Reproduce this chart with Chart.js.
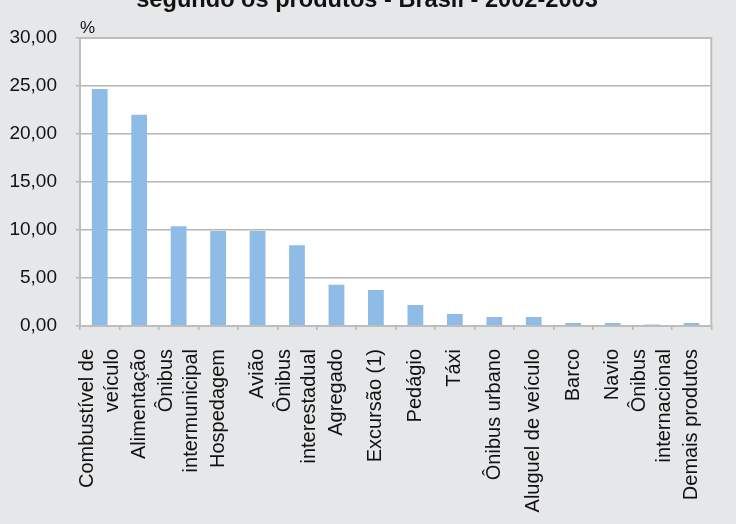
<!DOCTYPE html>
<html>
<head>
<meta charset="utf-8">
<script src="https://cdn.jsdelivr.net/npm/chart.js@4/dist/chart.umd.min.js"></script>
<style>
  html, body { margin: 0; padding: 0; background: #e6e7e9; }
  #wrap { width: 736px; height: 524px; }
</style>
</head>
<body>
<div id="wrap"><canvas id="chart" width="736" height="524"></canvas></div>
<script>
// Categorias (produtos) e participação percentual
const produtos = [
    ['Combustível de', 'veículo'], 'Alimentação', ['Ônibus', 'intermunicipal'], 'Hospedagem',
    'Avião', ['Ônibus', 'interestadual'], 'Agregado', 'Excursão (1)', 'Pedágio', 'Táxi',
    'Ônibus urbano', 'Aluguel de veículo', 'Barco', 'Navio', ['Ônibus', 'internacional'], 'Demais produtos'
];
const participacao = [24.7, 22.0, 10.4, 9.9, 9.9, 8.4, 4.3, 3.75, 2.2, 1.25, 0.95, 0.95, 0.3, 0.3, 0.15, 0.3];
const yTicks = [0, 5, 10, 15, 20, 25, 30];
const titulo = 'segundo os produtos - Brasil - 2002-2003';

const FONT = '"Liberation Sans", Arial, sans-serif';

// white plot area + frame, title and "%" label
const plotDecor = {
    id: 'plotDecor',
    beforeDraw(chart) {
        const { ctx, chartArea: a } = chart;
        ctx.save();
        ctx.fillStyle = '#ffffff';
        ctx.fillRect(a.left, a.top, a.right - a.left, a.bottom - a.top);
        ctx.restore();
    },
    afterDraw(chart) {
        const { ctx, chartArea: a } = chart;
        ctx.save();
        ctx.strokeStyle = '#bdbdbd';
        ctx.lineWidth = 2;
        ctx.strokeRect(a.left, a.top, a.right - a.left, a.bottom - a.top);
        ctx.fillStyle = '#111';
        ctx.font = 'bold 23.6px ' + FONT;
        ctx.textAlign = 'center';
        ctx.textBaseline = 'alphabetic';
        ctx.fillText(titulo, 367, 7);
        ctx.font = '17px ' + FONT;
        ctx.textAlign = 'left';
        ctx.textBaseline = 'middle';
        ctx.fillText('%', 80, 28);
        ctx.restore();
    }
};

// chart.js stacks rotated multi-line labels to one side of the tick; center them
function centerMultiline(scale) {
    if (scale._centerWrapped) return;
    scale._centerWrapped = true;
    const orig = scale.getLabelItems.bind(scale);
    scale.getLabelItems = function (area) {
        const items = orig(area);
        items.forEach(it => {
            if (Array.isArray(it.label) && !it._centered) {
                it._centered = true;
                it.options.translation[0] -= (it.label.length - 1) * it.font.lineHeight / 2;
            }
        });
        return items;
    };
}

const ctx = document.getElementById('chart').getContext('2d');
new Chart(ctx, {
    type: 'bar',
    data: {
        labels: produtos,
        datasets: [{
            data: participacao,
            backgroundColor: '#8ebce6',
            borderWidth: 0,
            barPercentage: 0.4,
            categoryPercentage: 1.0
        }]
    },
    options: {
        responsive: false,
        animation: false,
        layout: { padding: { top: 38, right: 20, left: 0, bottom: 0 } },
        plugins: { legend: { display: false }, title: { display: false }, tooltip: { enabled: false } },
        scales: {
            x: {
                grid: { display: true, drawOnChartArea: false, offset: true, tickLength: 4, color: '#b5b5b5', lineWidth: 1.5 },
                border: { display: false },
                ticks: {
                    autoSkip: false, maxRotation: 90, minRotation: 90, padding: 19,
                    color: '#111', font: { family: FONT, size: 20, lineHeight: 1.24 }
                },
                afterFit(scale) { scale.height = 524 - 326; },
                afterUpdate: centerMultiline
            },
            y: {
                min: 0, max: 30,
                afterBuildTicks(scale) { scale.ticks = yTicks.map(v => ({ value: v })); },
                grid: { color: '#b5b5b5', lineWidth: 1.5, tickLength: 4 },
                border: { display: false },
                ticks: {
                    padding: 19, color: '#111', font: { family: FONT, size: 19 },
                    callback: v => v.toFixed(2).replace('.', ',')
                },
                afterFit(scale) { scale.width = 80; }
            }
        }
    },
    plugins: [plotDecor]
});
</script>
</body>
</html>
